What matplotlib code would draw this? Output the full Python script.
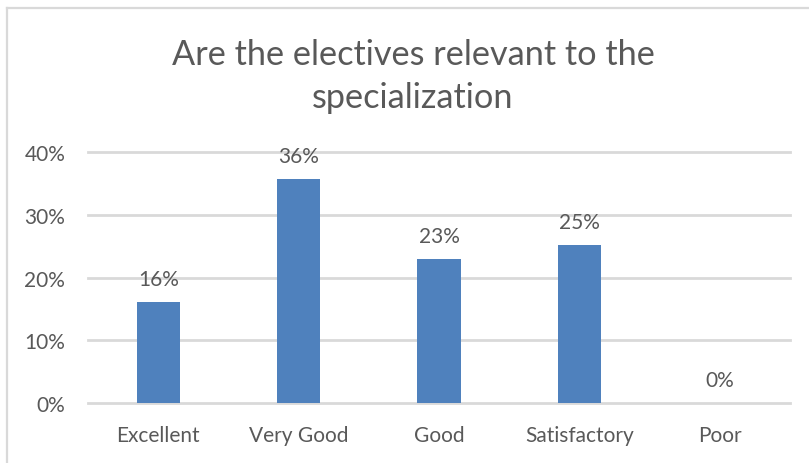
import matplotlib
matplotlib.use('Agg')
import matplotlib.pyplot as plt
from matplotlib.lines import Line2D
from matplotlib.ticker import PercentFormatter

# Data
categories = ['Excellent', 'Very Good', 'Good', 'Satisfactory', 'Poor']
shares = [0.161, 0.357, 0.230, 0.252, 0.0]
labels = ['16%', '36%', '23%', '25%', '0%']

title_lines = ['Are the electives relevant to the', 'specialization']

bar_color = '#4F81BD'
text_color = '#595959'
grid_color = '#D9D9D9'

plt.rcParams['font.family'] = ['Lato', 'DejaVu Sans']

fig = plt.figure(figsize=(8.09, 4.64), dpi=100)
ax = fig.add_axes([0.109, 0.1293, 0.8675, 0.5408])

x = range(len(categories))
ax.bar(x, shares, width=0.31, color=bar_color, zorder=3)

# value labels above the bars
for xi, v, lab in zip(x, shares, labels):
    ax.annotate(lab, (xi, v), xytext=(0, 13), textcoords='offset pixels',
                ha='center', va='bottom', fontsize=15, color=text_color)

ax.set_xlim(-0.5, len(categories) - 0.5)
ax.set_ylim(0, 0.4)
ax.set_yticks([0, 0.1, 0.2, 0.3, 0.4])
ax.yaxis.set_major_formatter(PercentFormatter(1.0, decimals=0))
ax.set_xticks(list(x))
ax.set_xticklabels(categories)

ax.grid(axis='y', color=grid_color, linewidth=2, zorder=0)
for line in ax.get_ygridlines():
    line.set_clip_on(False)
for s in ax.spines.values():
    s.set_visible(False)
ax.tick_params(axis='both', length=0, labelsize=15, labelcolor=text_color)
ax.tick_params(axis='x', pad=16)
ax.tick_params(axis='y', pad=16.5)

# two-line title, centred on the chart area
fig.text(0.5105, 1 - 65 / 464, title_lines[0], ha='center', va='baseline',
         fontsize=24.7, color=text_color)
fig.text(0.5105, 1 - 108 / 464, title_lines[1], ha='center', va='baseline',
         fontsize=24.7, color=text_color)

# chart border (only top and left visible in the crop)
fig.add_artist(Line2D([7 / 809, 7 / 809], [0, 1 - 9 / 464], transform=fig.transFigure,
                      color=grid_color, linewidth=1.6))
fig.add_artist(Line2D([7 / 809, 1], [1 - 9 / 464, 1 - 9 / 464], transform=fig.transFigure,
                      color=grid_color, linewidth=1.6))

fig.savefig('out.png', dpi=100, facecolor='white')
